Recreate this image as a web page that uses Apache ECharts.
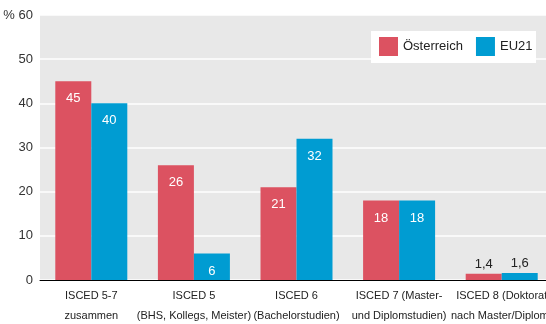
<!DOCTYPE html>
<html><head><meta charset="utf-8">
<script src="https://cdn.jsdelivr.net/npm/echarts@6/dist/echarts.min.js"></script>
<style>html,body{margin:0;padding:0;background:#fff}#c{width:546px;height:324px}</style>
</head><body><div id="c"></div>
<script>
var categories = ["ISCED 5-7\nzusammen", "ISCED 5\n(BHS, Kollegs, Meister)", "ISCED 6\n(Bachelorstudien)", "ISCED 7 (Master-\nund Diplomstudien)", "ISCED 8 (Doktorat\nnach Master/Diplom)"];
var austria = [45, 26, 21, 18, 1.4];
var eu21 = [40, 6, 32, 18, 1.6];
var seriesNames = ["Österreich", "EU21"];
var yTicks = [0, 10, 20, 30, 40, 50, 60];

var FONT = "'Liberation Sans', Arial, sans-serif";
function mk(arr) {
  return arr.map(function (v) {
    if (v < 5) return { value: v, label: { position: 'top', color: '#222', distance: 3 } };
    return v;
  });
}
var lbl = {
  show: true, position: 'insideTop', distance: 11, color: '#fff', fontSize: 13, fontFamily: FONT,
  formatter: function (p) { return String(p.value).replace('.', ','); }
};
var chart = echarts.init(document.getElementById('c'), null, { renderer: 'canvas' });
chart.setOption({
  animation: false,
  textStyle: { fontFamily: FONT },
  grid: { left: 40, top: 15, width: 513, height: 265, show: true, backgroundColor: '#e8e8e8', borderWidth: 0,
    containLabel: false, outerBoundsMode: 'none' },
  graphic: [{ type: 'rect', left: 371, top: 31, shape: { width: 165, height: 32 }, style: { fill: '#fff' }, z: 5 }],
  legend: {
    orient: 'horizontal', left: 379, top: 37, padding: 0, itemWidth: 19, itemHeight: 19, itemGap: 13, icon: 'rect', z: 10,
    textStyle: { fontSize: 13, color: '#222', fontFamily: FONT },
    data: seriesNames
  },
  xAxis: {
    type: 'category', data: categories,
    axisLine: { lineStyle: { color: '#000', width: 1 } },
    axisTick: { inside: true, length: 5, lineStyle: { color: '#000' } },
    axisLabel: { interval: 0, color: '#222', fontSize: 11, lineHeight: 20, margin: 6, fontFamily: FONT }
  },
  yAxis: {
    type: 'value', min: yTicks[0], max: yTicks[yTicks.length - 1], interval: 10,
    axisLine: { show: false }, axisTick: { show: false },
    splitLine: { lineStyle: { color: '#fff', width: 1.5 } },
    axisLabel: { color: '#333', fontSize: 13, margin: 7, fontFamily: FONT,
      formatter: function (v) { return v === 60 ? '% 60' : String(v); } }
  },
  series: [
    { name: seriesNames[0], type: 'bar', data: mk(austria), barWidth: 36, barGap: '0%', itemStyle: { color: '#dc5261' }, label: lbl },
    { name: seriesNames[1], type: 'bar', data: mk(eu21), barWidth: 36, barGap: '0%', itemStyle: { color: '#009cd2' }, label: lbl }
  ]
});
</script></body></html>
